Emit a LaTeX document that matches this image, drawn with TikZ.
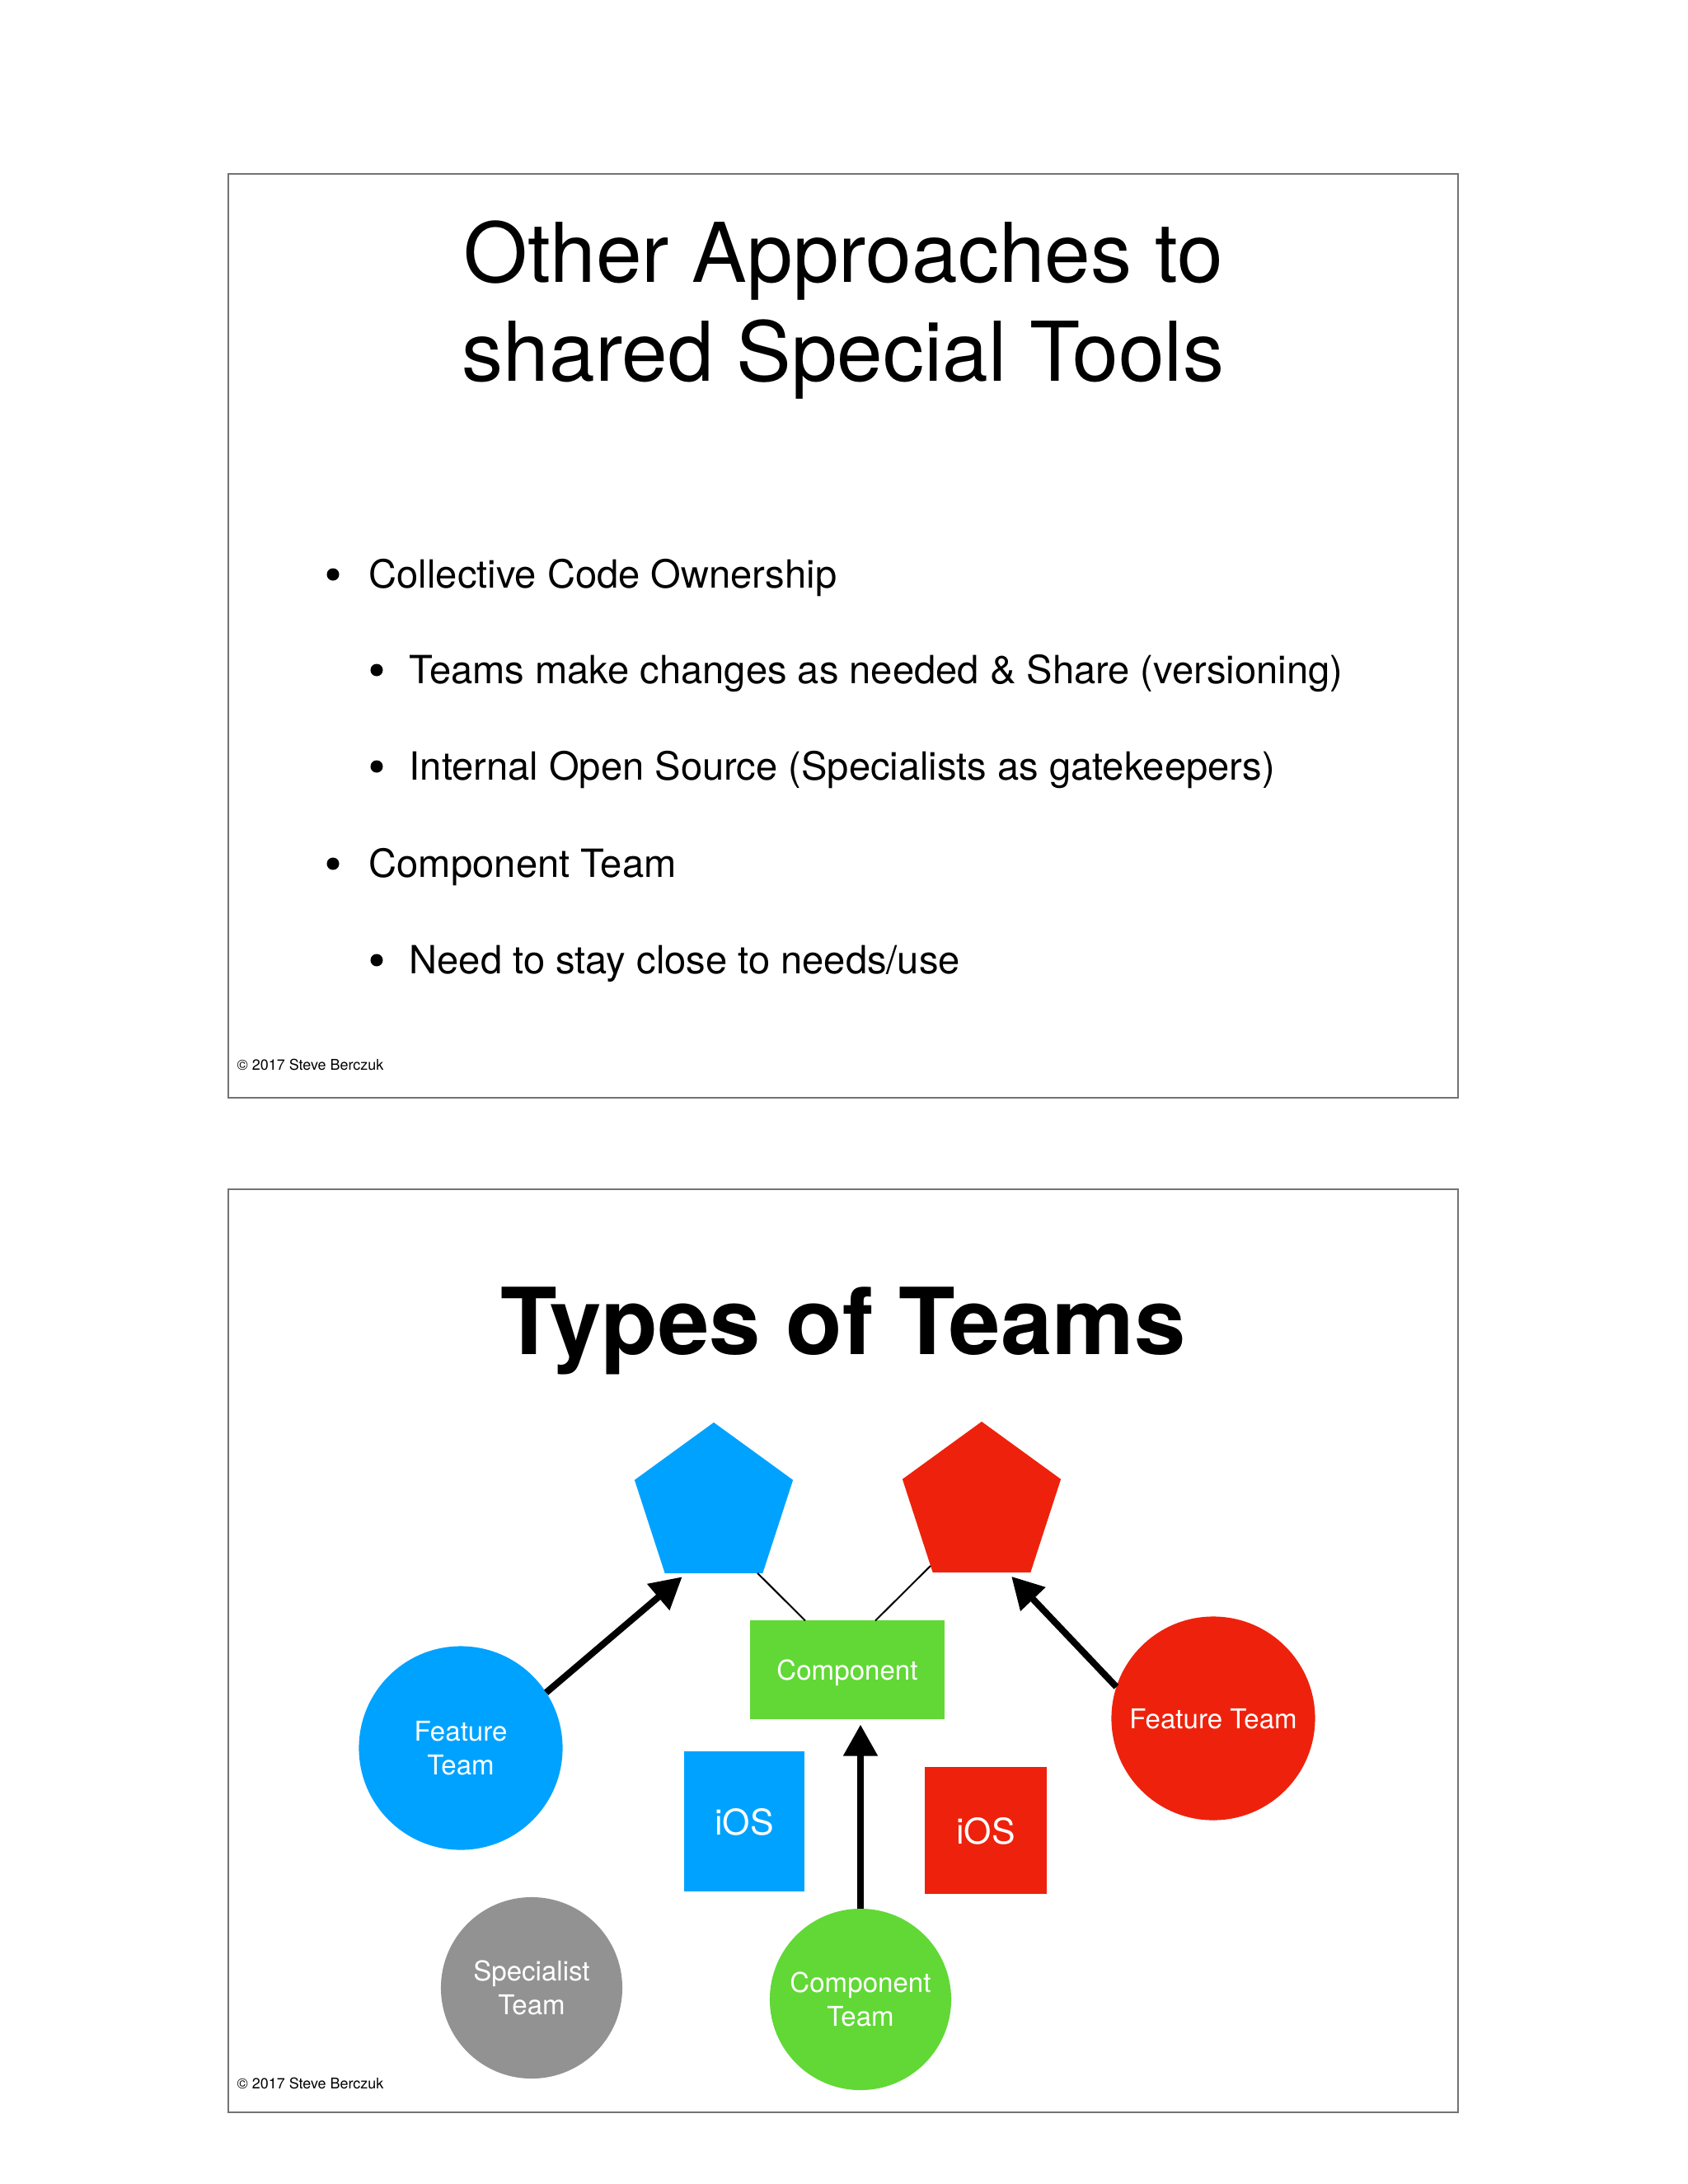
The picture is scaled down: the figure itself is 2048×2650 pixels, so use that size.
\documentclass[tikz,border=0pt]{standalone}
\usepackage{fontspec}
\setmainfont{TeX Gyre Heros}
\usepackage{xcolor}
\usetikzlibrary{arrows.meta,calc,shapes.geometric}

\definecolor{kblue}{HTML}{00A2FF}
\definecolor{kred}{HTML}{EE220C}
\definecolor{kgreen}{HTML}{61D836}
\definecolor{kgray}{HTML}{929292}

\tikzset{
  slideframe/.style={draw=black!55,line width=0.02cm},
  penta/.style={regular polygon,regular polygon sides=5,minimum size=2.02cm,inner sep=0pt,outer sep=0pt},
  teamdot/.style={circle,inner sep=0pt,outer sep=0pt,text=white,align=center,font=\fontsize{9.4}{11.7}\selectfont},
  tilebox/.style={rectangle,inner sep=0pt,outer sep=0pt,text=white,text depth=0pt},
  bigarrow/.style={line width=0.08cm,-{Triangle[length=0.38cm,width=0.4cm]},shorten >=0.07cm},
  thinlink/.style={line width=0.02cm},
  bulletdot/.style={circle,fill=black,inner sep=0pt,minimum size=0.15cm},
  bullettext/.style={anchor=base west,inner sep=0pt,font=\fontsize{13.4}{16}\selectfont},
  copynote/.style={anchor=base west,inner sep=0pt,font=\fontsize{5.1}{6}\selectfont},
}

\begin{document}
\begin{tikzpicture}[x=0.01cm,y=-0.01cm]
    \useasboundingbox (0,0) rectangle (2048,2650);
    \fill[white] (0,0) rectangle (2048,2650);
    % Slide frames
    \draw[slideframe] (277,211) rectangle (1769,1332);
    \draw[slideframe] (277,1443) rectangle (1769,2563);

    % Slide 1: title
    \node[anchor=base,inner sep=0pt,font=\fontsize{28.45}{34}\selectfont] (titleA) at (1023,342) {Other Approaches to};
    \node[anchor=base,inner sep=0pt,font=\fontsize{28.45}{34}\selectfont] (titleB) at (1023,462) {shared Special Tools};
    % Slide 1: bullets
    \node[bulletdot] (dotA) at (404,697) {};
    \node[bullettext] (itemA) at (447,713) {Collective Code Ownership};
    \node[bulletdot] (dotB) at (457,813) {};
    \node[bullettext] (itemB) at (496,829) {Teams make changes as needed \& Share (versioning)};
    \node[bulletdot] (dotC) at (457,930) {};
    \node[bullettext] (itemC) at (496,946) {Internal Open Source (Specialists as gatekeepers)};
    \node[bulletdot] (dotD) at (404,1048) {};
    \node[bullettext] (itemD) at (447,1064) {Component Team};
    \node[bulletdot] (dotE) at (457,1165) {};
    \node[bullettext] (itemE) at (496,1181) {Need to stay close to needs/use};
    \node[copynote] (copyA) at (287,1298) {© 2017 Steve Berczuk};

    % Slide 2: title
    \node[anchor=base,inner sep=0pt,font=\fontsize{31.9}{38}\selectfont\bfseries] (titleC) at (1023,1643) {Types of Teams};
    % Tools (pentagons)
    \node[penta,fill=kblue] (bluepent) at (866,1827) {};
    \node[penta,fill=kred] (redpent) at (1191,1826) {};
    % Shared component
    \node[tilebox,fill=kgreen,minimum width=2.35cm,minimum height=1.19cm,font=\fontsize{9.4}{11.7}\selectfont] (comp) at (1028,2026) {Component};
    % iOS tiles
    \node[tilebox,fill=kblue,minimum width=1.46cm,minimum height=1.69cm,font=\fontsize{12.2}{14}\selectfont] (iosblue) at (903,2210) {iOS};
    \node[tilebox,fill=kred,minimum width=1.47cm,minimum height=1.54cm,font=\fontsize{12.2}{14}\selectfont] (iosred) at (1196,2221) {iOS};
    % Teams
    \node[teamdot,fill=kblue,minimum size=2.47cm] (featblue) at (559,2121) {Feature\\Team};
    \node[teamdot,fill=kred,minimum size=2.47cm,text depth=0pt] (featred) at (1472,2085) {Feature Team};
    \node[teamdot,fill=kgray,minimum size=2.2cm] (spec) at (645,2412) {Specialist\\Team};
    \node[teamdot,fill=kgreen,minimum size=2.2cm] (compteam) at (1044,2426) {Component\\Team};
    % Links
    \draw[thinlink] (bluepent.-57) -- ([xshift=-0.51cm]comp.north);
    \draw[thinlink] (redpent.-130) -- ([xshift=0.34cm]comp.north);
    \draw[bigarrow] (featblue.33) -- (bluepent.-112);
    \draw[bigarrow] (featred.162) -- (redpent.-69);
    \draw[bigarrow] (compteam.north) -- (compteam.north |- comp.south);
    \node[copynote] (copyB) at (287,2534) {© 2017 Steve Berczuk};
\end{tikzpicture}
\end{document}
